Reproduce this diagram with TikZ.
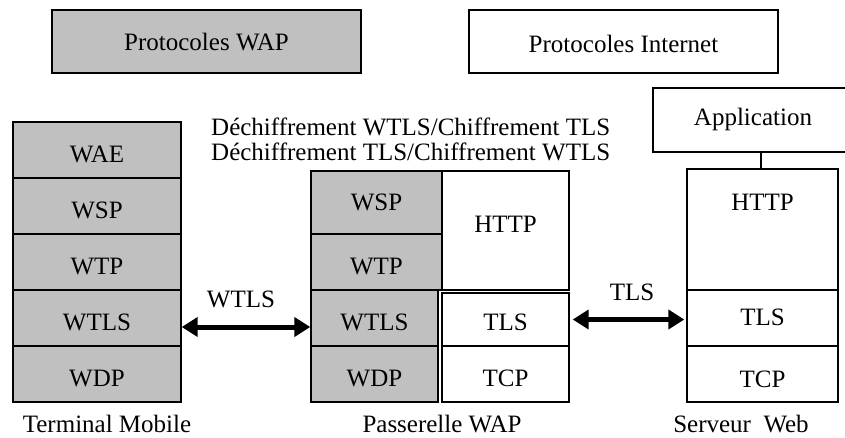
\documentclass[tikz,border=0pt]{standalone}
\usepackage{fontspec}
\setmainfont{Liberation Serif}
\usetikzlibrary{arrows.meta}
\definecolor{cellgray}{HTML}{C0C0C0}
\tikzset{
  cell/.style={draw, line width=1.4pt, inner xsep=0pt, inner ysep=0pt, font=\fontsize{25}{25}\selectfont},
  gcell/.style={cell, fill=cellgray},
  wcell/.style={cell, fill=white},
  lbl/.style={inner sep=0pt, font=\fontsize{25}{25}\selectfont},
  bigarrow/.style={line width=5pt, {Triangle[length=16pt,width=19pt]}-{Triangle[length=16pt,width=19pt]}},
  thinline/.style={line width=1.4pt}
}
\begin{document}
\begin{tikzpicture}[x=1pt,y=-1pt]
\useasboundingbox (0,0) rectangle (845,437);
% top legend boxes
\node[gcell, minimum width=309pt, text height=40pt, text depth=23pt] (lwap) at (206.5,41.5) {Protocoles WAP};
\node[wcell, minimum width=309pt, text height=42pt, text depth=21pt] (linet) at (623.5,41.5) {Protocoles Internet};
% terminal mobile
\node[gcell, minimum width=168pt, text height=40pt, text depth=16pt] (twae) at (97,150) {WAE};
\node[gcell, minimum width=168pt, text height=40pt, text depth=16pt] (twsp) at (97,206) {WSP};
\node[gcell, minimum width=168pt, text height=40pt, text depth=16pt] (twtp) at (97,262) {WTP};
\node[gcell, minimum width=168pt, text height=40pt, text depth=16pt] (twtls) at (97,318) {WTLS};
\node[gcell, minimum width=168pt, text height=40pt, text depth=16pt] (twdp) at (97,374) {WDP};
% passerelle
\node[gcell, minimum width=131pt, text height=39pt, text depth=24pt] (pwsp) at (376.5,202.5) {WSP};
\node[gcell, minimum width=131pt, text height=40pt, text depth=16pt] (pwtp) at (376.5,262) {WTP};
\node[gcell, minimum width=127pt, text height=40pt, text depth=16pt] (pwtls) at (374.5,318) {WTLS};
\node[gcell, minimum width=127pt, text height=40pt, text depth=16pt] (pwdp) at (374.5,374) {WDP};
\node[wcell, minimum width=127pt, text height=61pt, text depth=58pt] (phttp) at (505.5,230.5) {HTTP};
\node[wcell, minimum width=127pt, text height=37pt, text depth=16pt] (ptls) at (505.5,319.5) {TLS};
\node[wcell, minimum width=127pt, text height=40pt, text depth=16pt] (ptcp) at (505.5,374) {TCP};
% serveur
\node[wcell, minimum width=151pt, text height=41pt, text depth=80pt] (shttp) at (762.5,229.5) {HTTP};
\node[wcell, minimum width=151pt, text height=35pt, text depth=21pt] (stls) at (762.5,318) {TLS};
\node[wcell, minimum width=151pt, text height=41pt, text depth=15pt] (stcp) at (762.5,374) {TCP};
% application (box cut by the right edge)
\node[lbl, anchor=base] (app) at (753,125) {Application};
\draw[thinline] (850,88) -- (653,88) -- (653,152) -- (850,152);
\coordinate (appb) at (761,152);
\draw[thinline] (appb) -- (appb |- shttp.north);
% texts
\node[lbl, anchor=base west] (dec1) at (211,135) {Déchiffrement WTLS/Chiffrement TLS};
\node[lbl, anchor=base west] (dec2) at (211,160) {Déchiffrement TLS/Chiffrement WTLS};
\node[lbl, anchor=base] (tm) at (107,432) {Terminal Mobile};
\node[lbl, anchor=base] (pw) at (442,432) {Passerelle WAP};
\node[lbl, anchor=base] (sw) at (741,432) {Serveur\ \ Web};
% arrows
\draw[bigarrow] ([yshift=-9pt]twtls.east) -- ([yshift=-9pt]pwtls.west);
\node[lbl] (lwtls) at (241,299) {WTLS};
\draw[bigarrow] ([xshift=3pt]ptls.east) -- ([xshift=-2pt]stls.west |- ptls.east);
\node[lbl] (ltls) at (632,292) {TLS};
\end{tikzpicture}
\end{document}
